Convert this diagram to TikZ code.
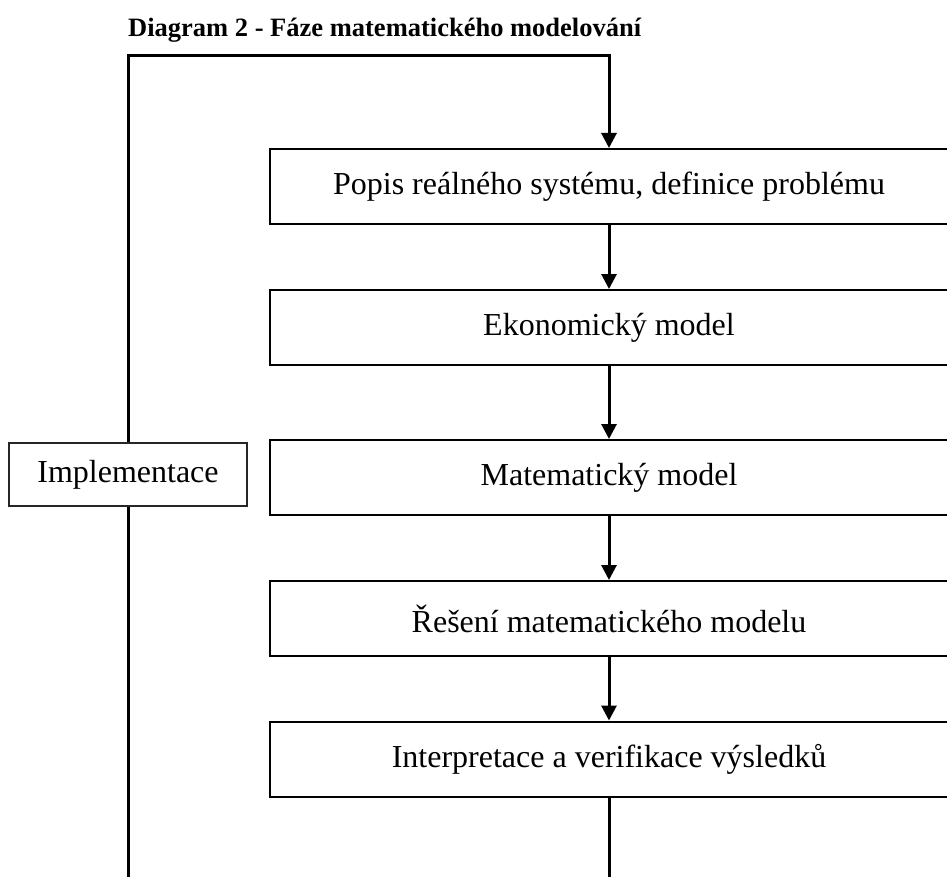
\documentclass[tikz,border=0pt]{standalone}
\usepackage{fontspec}
\setmainfont{Liberation Serif}
\usetikzlibrary{arrows.meta}
\begin{document}
\begin{tikzpicture}[x=1pt,y=1pt,
  stage/.style={draw=black, line width=2pt, minimum width=678pt, minimum height=75pt, inner sep=0pt, font=\fontsize{32}{37}\selectfont},
  implbox/.style={draw=black!85, line width=1.2pt, minimum width=238pt, minimum height=63pt, inner sep=0pt, font=\fontsize{32}{37}\selectfont},
  flow/.style={line width=3pt, -{Triangle[length=15pt,width=15pt]}},
  loopline/.style={line width=3pt}]
\useasboundingbox (0,0) rectangle (947,-877);
\clip (0,0) rectangle (947,-877);
\node[anchor=base west, inner sep=0pt, font=\bfseries\fontsize{26.5}{30}\selectfont] (title) at (128,-37) {Diagram 2 - Fáze matematického modelování};
\node[stage] (b1) at (609,-186.5) {Popis reálného systému, definice problému};
\node[stage] (b2) at (609,-327.5) {Ekonomický model};
\node[stage] (b3) at (609,-477.5) {Matematický model};
\node[stage] (b4) at (609,-618.5) {Řešení matematického modelu};
\node[stage] (b5) at (609,-759) {Interpretace a verifikace výsledků};
\node[implbox] (impl) at (128,-474.5) {Implementace\hspace{14pt}};
\coordinate (tl) at (128,-56);
\coordinate (tr) at (609,-56);
\coordinate (bl) at (128,-885);
\coordinate (br) at (609,-885);
\draw[flow] (impl.north) -- (tl) -- (tr) -- (b1.north);
\draw[loopline] (impl.south) -- (bl);
\draw[flow] (b1.south) -- (b2.north);
\draw[flow] (b2.south) -- (b3.north);
\draw[flow] (b3.south) -- (b4.north);
\draw[flow] (b4.south) -- (b5.north);
\draw[loopline] (b5.south) -- (br);
\end{tikzpicture}
\end{document}
